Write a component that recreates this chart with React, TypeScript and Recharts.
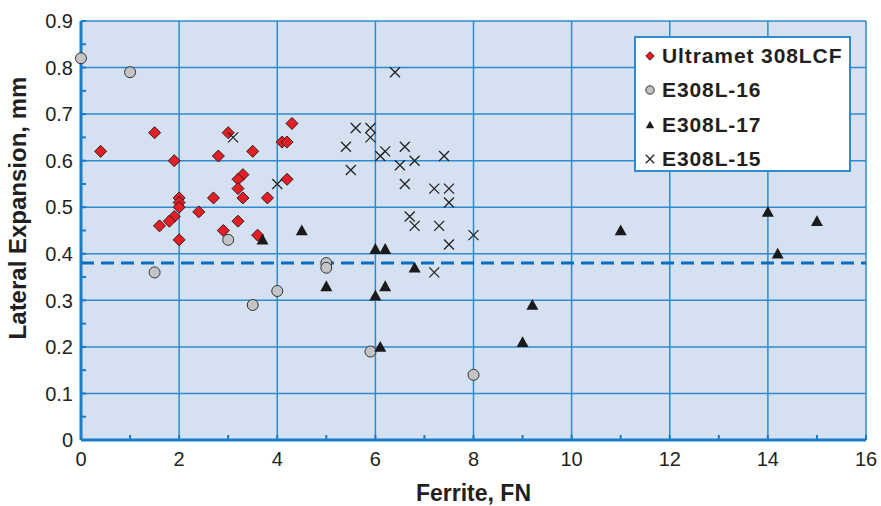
import {
  CartesianGrid,
  Label,
  Legend,
  ReferenceLine,
  Scatter,
  ScatterChart,
  XAxis,
  YAxis,
} from 'recharts'

type Pt = { x: number; y: number }

const ultramet: Pt[] = [
  { x: 0.4, y: 0.62 }, { x: 1.5, y: 0.66 }, { x: 1.9, y: 0.6 }, { x: 3.0, y: 0.66 },
  { x: 2.8, y: 0.61 }, { x: 3.5, y: 0.62 }, { x: 4.3, y: 0.68 }, { x: 4.1, y: 0.64 },
  { x: 4.2, y: 0.64 }, { x: 3.3, y: 0.57 }, { x: 3.2, y: 0.56 }, { x: 3.2, y: 0.54 },
  { x: 4.2, y: 0.56 }, { x: 2.0, y: 0.52 }, { x: 2.0, y: 0.51 }, { x: 2.0, y: 0.5 },
  { x: 2.7, y: 0.52 }, { x: 3.3, y: 0.52 }, { x: 3.8, y: 0.52 }, { x: 2.4, y: 0.49 },
  { x: 1.9, y: 0.48 }, { x: 1.8, y: 0.47 }, { x: 1.6, y: 0.46 }, { x: 3.2, y: 0.47 },
  { x: 2.9, y: 0.45 }, { x: 2.0, y: 0.43 }, { x: 3.6, y: 0.44 },
]

const e308l16: Pt[] = [
  { x: 0, y: 0.82 }, { x: 1.0, y: 0.79 }, { x: 3.0, y: 0.43 }, { x: 1.5, y: 0.36 },
  { x: 4.0, y: 0.32 }, { x: 3.5, y: 0.29 }, { x: 5.0, y: 0.38 }, { x: 5.0, y: 0.37 },
  { x: 5.9, y: 0.19 }, { x: 8.0, y: 0.14 },
]

const e308l17: Pt[] = [
  { x: 3.7, y: 0.43 }, { x: 4.5, y: 0.45 }, { x: 5.0, y: 0.33 }, { x: 6.0, y: 0.41 },
  { x: 6.2, y: 0.41 }, { x: 6.8, y: 0.37 }, { x: 6.2, y: 0.33 }, { x: 6.0, y: 0.31 },
  { x: 6.1, y: 0.2 }, { x: 9.0, y: 0.21 }, { x: 9.2, y: 0.29 }, { x: 11.0, y: 0.45 },
  { x: 14.0, y: 0.49 }, { x: 15.0, y: 0.47 }, { x: 14.2, y: 0.4 },
]

const e308l15: Pt[] = [
  { x: 3.1, y: 0.65 }, { x: 4.0, y: 0.55 }, { x: 6.4, y: 0.79 }, { x: 5.6, y: 0.67 },
  { x: 5.9, y: 0.67 }, { x: 5.9, y: 0.65 }, { x: 5.4, y: 0.63 }, { x: 6.2, y: 0.62 },
  { x: 6.1, y: 0.61 }, { x: 6.6, y: 0.63 }, { x: 5.5, y: 0.58 }, { x: 6.5, y: 0.59 },
  { x: 6.8, y: 0.6 }, { x: 7.4, y: 0.61 }, { x: 6.6, y: 0.55 }, { x: 7.2, y: 0.54 },
  { x: 7.5, y: 0.54 }, { x: 7.5, y: 0.51 }, { x: 6.7, y: 0.48 }, { x: 6.8, y: 0.46 },
  { x: 7.3, y: 0.46 }, { x: 7.5, y: 0.42 }, { x: 8.0, y: 0.44 }, { x: 7.2, y: 0.36 },
]

const cutoff = 0.38

const xTicks = [0, 1, 2, 3, 4, 5, 6, 7, 8, 9, 10, 11, 12, 13, 14, 15, 16]
const xGrid = [0, 2, 4, 6, 8, 10, 12, 14, 16]
const yTicks = [
  0, 0.05, 0.1, 0.15, 0.2, 0.25, 0.3, 0.35, 0.4, 0.45, 0.5, 0.55, 0.6, 0.65, 0.7,
  0.75, 0.8, 0.85, 0.9,
]
const yGrid = [0, 0.1, 0.2, 0.3, 0.4, 0.5, 0.6, 0.7, 0.8, 0.9]

const FONT = '"Liberation Sans", Arial, Helvetica, sans-serif'
const BLUE = '#1a7cc8'
const GRID = '#2f8bd0'
const TEXT = '#231f20'

function Diamond({ cx, cy, r = 6 }: any) {
  return (
    <path
      d={`M${cx},${cy - r}L${cx + r},${cy}L${cx},${cy + r}L${cx - r},${cy}Z`}
      fill="#e31e26"
      stroke="#3a1a1a"
      strokeWidth={1}
    />
  )
}

function Circle({ cx, cy, r = 5.5 }: any) {
  return <circle cx={cx} cy={cy} r={r} fill="#c3c4c6" stroke="#333" strokeWidth={1} />
}

function Triangle({ cx, cy, r = 6 }: any) {
  return (
    <path
      d={`M${cx},${cy - r}L${cx + r},${cy + r * 0.8}L${cx - r},${cy + r * 0.8}Z`}
      fill="#1a1a1a"
    />
  )
}

function XMark({ cx, cy, r = 5 }: any) {
  return (
    <path
      d={`M${cx - r},${cy - r}L${cx + r},${cy + r}M${cx - r},${cy + r}L${cx + r},${cy - r}`}
      stroke="#222"
      strokeWidth={1.3}
      fill="none"
    />
  )
}

const series = [
  { name: 'Ultramet 308LCF', data: ultramet, Shape: Diamond },
  { name: 'E308L-16', data: e308l16, Shape: Circle },
  { name: 'E308L-17', data: e308l17, Shape: Triangle },
  { name: 'E308L-15', data: e308l15, Shape: XMark },
]

function YTick({ x, y, payload, index }: any) {
  const axisX = x + 8
  const major = index % 2 === 0
  return (
    <g>
      <line x1={axisX} x2={axisX + 5} y1={y} y2={y} stroke={BLUE} strokeWidth={2} />
      {major && (
        <text x={x} y={y} dy="0.36em" textAnchor="end" fontSize={20} fill={TEXT} fontFamily={FONT}>
          {payload.value === 0 ? '0' : payload.value.toFixed(1)}
        </text>
      )}
    </g>
  )
}

function XTick({ x, y, payload, index }: any) {
  const axisY = y - 12
  const major = index % 2 === 0
  return (
    <g>
      <line x1={x} x2={x} y1={axisY} y2={axisY - 5} stroke={BLUE} strokeWidth={2} />
      {major && (
        <text x={x} y={y} dy="0.72em" textAnchor="middle" fontSize={20} fill={TEXT} fontFamily={FONT}>
          {payload.value}
        </text>
      )}
    </g>
  )
}

function LegendBox() {
  return (
    <div
      style={{
        width: 204,
        height: 131,
        border: `2px solid ${GRID}`,
        background: '#fff',
        paddingTop: 1,
        paddingLeft: 9,
        boxSizing: 'content-box',
        fontFamily: FONT,
      }}
    >
      {series.map(({ name, Shape }) => (
        <div
          key={name}
          style={{ display: 'flex', alignItems: 'center', height: 34.3 }}
        >
          <svg width={10} height={12} style={{ marginRight: 7 }}>
            <Shape cx={5} cy={6} r={4.2} />
          </svg>
          <span style={{ fontSize: 21, fontWeight: 'bold', color: TEXT, letterSpacing: 0.9 }}>
            {name}
          </span>
        </div>
      ))}
    </div>
  )
}

export default function App() {
  return (
    <div style={{ position: 'absolute', left: 0, top: 0 }}>
      <ScatterChart
        width={881}
        height={506}
        margin={{ top: 21, right: 15, bottom: 0, left: 0 }}
      >
        <CartesianGrid
          fill="#d5e0f1"
          fillOpacity={1}
          stroke={GRID}
          strokeWidth={1.5}
          horizontalValues={yGrid}
          verticalValues={xGrid}
        />
        <XAxis
          type="number"
          dataKey="x"
          domain={[0, 16]}
          ticks={xTicks}
          interval={0}
          height={66}
          tickSize={0}
          tickMargin={12}
          tickLine={false}
          axisLine={{ stroke: BLUE, strokeWidth: 3 }}
          tick={<XTick />}
        >
          <Label
            value="Ferrite, FN"
            position="insideBottom"
            offset={5}
            style={{ fontSize: 23, fontWeight: 'bold', fill: TEXT, fontFamily: FONT }}
          />
        </XAxis>
        <YAxis
          type="number"
          dataKey="y"
          domain={[0, 0.9]}
          ticks={yTicks}
          interval={0}
          width={81}
          tickSize={0}
          tickMargin={8}
          tickLine={false}
          axisLine={{ stroke: BLUE, strokeWidth: 3 }}
          tick={<YTick />}
        >
          <Label
            content={() => (
              <text
                transform="translate(26,208) rotate(-90)"
                textAnchor="middle"
                fontSize={24}
                fontWeight="bold"
                fill={TEXT}
                fontFamily={FONT}
              >
                Lateral Expansion, mm
              </text>
            )}
          />
        </YAxis>
        <ReferenceLine
          y={cutoff}
          stroke="#0a6fc0"
          strokeWidth={3}
          strokeDasharray="13 7"
        />
        {series.map(({ name, data, Shape }) => (
          <Scatter
            key={name}
            name={name}
            data={data}
            isAnimationActive={false}
            shape={(p: any) => <Shape cx={p.cx} cy={p.cy} />}
          />
        ))}
        <Legend
          layout="horizontal"
          verticalAlign="middle"
          align="center"
          content={() => <LegendBox />}
          wrapperStyle={{ position: 'absolute', left: 634, top: 36, width: 'auto' }}
        />
      </ScatterChart>
    </div>
  )
}
